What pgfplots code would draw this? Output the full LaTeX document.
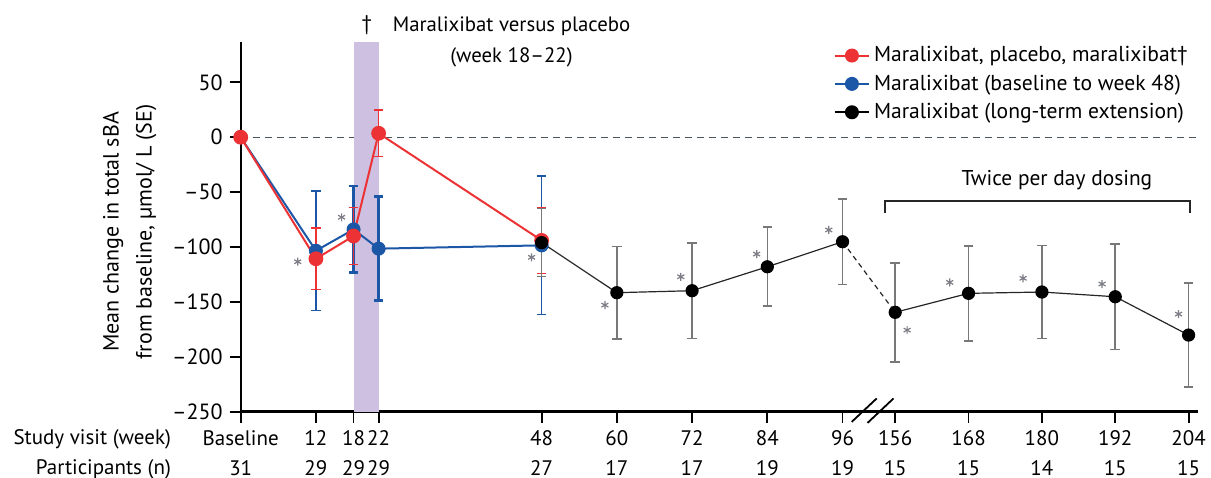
\documentclass[border=0pt]{standalone}
\usepackage{fontspec}
\setmainfont{PT Sans}
\usepackage{pgfplots}
\pgfplotsset{compat=1.18}
\definecolor{redL}{RGB}{236,50,52}
\definecolor{blueL}{RGB}{28,86,166}
\definecolor{band}{RGB}{206,192,224}
\definecolor{zeroline}{RGB}{75,85,95}
\definecolor{astc}{RGB}{125,125,135}
\definecolor{ebgray}{RGB}{120,120,120}
\begin{document}
\begin{tikzpicture}
\useasboundingbox (-120.35pt,-32.65pt) rectangle (485.15pt,205.85pt);
\begin{axis}[
  anchor=south west, at={(0,0)},
  scale only axis, width=478.65pt, height=185pt,
  xmin=0, xmax=152.7, ymin=-250, ymax=87,
  clip=false,
  axis x line*=bottom, axis y line*=left,
  x axis line style={line width=1.4pt,-},
  y axis line style={line width=0.9pt,-},
  tick align=outside, major tick length=5.5pt,
  tick style={line width=0.9pt, black},
  xtick={0,12,18,22,48,60,72,84,96,104.4,116.1,127.8,139.5,151.2},
  xticklabels={{\strut Baseline\\31},{\strut 12\\29},{\strut 18\\29},{\strut 22\\29},{\strut 48\\27},{\strut 60\\17},{\strut 72\\17},{\strut 84\\19},{\strut 96\\19},{\strut 156\\15},{\strut 168\\15},{\strut 180\\14},{\strut 192\\15},{\strut 204\\15}},
  xticklabel style={align=center, font=\fontsize{10.5}{15}\selectfont, yshift=2.6pt},
  ytick={-250,-200,-150,-100,-50,0,50},
  yticklabels={–250,–200,–150,–100,–50,0,50},
  yticklabel style={font=\fontsize{11}{13}\selectfont},
  /pgf/number format/assume math mode=true,
  ylabel={Mean change in total sBA\\from baseline, µmol/ L (SE)},
  ylabel style={at={(axis description cs:-0.116,0.486)}, anchor=center, align=center, font=\fontsize{11}{16.5}\selectfont},
  legend style={draw=none, fill=none, at={(axis description cs:1.0,1.01)}, anchor=north east, font=\fontsize{10.8}{14}\selectfont, row sep=1pt, cells={anchor=west}},
]
\addlegendimage{redL, line width=1pt, mark=*, mark size=3pt}
\addlegendentry{Maralixibat, placebo, maralixibat†}
\addlegendimage{blueL, line width=1pt, mark=*, mark size=3pt}
\addlegendentry{Maralixibat (baseline to week 48)}
\addlegendimage{black, line width=1pt, mark=*, mark size=3pt}
\addlegendentry{Maralixibat (long-term extension)}

% zero line
\addplot[zeroline, line width=0.7pt, dash pattern=on 3.5pt off 2.5pt, forget plot] coordinates {(0,0) (152.7,0)};
% week 18-22 band
\addplot[fill=band, draw=none, forget plot] coordinates {(18,-250) (18,87) (22,87) (22,-250)} -- cycle;

% blue series
\addplot[blueL, line width=1pt, mark=*, mark size=3pt, forget plot,
  error bars/.cd, y dir=both, y explicit,
  error bar style={line width=0.8pt}, error mark options={rotate=90, mark size=2.4pt, line width=0.8pt}]
  coordinates {(0,0) (12,-103.4) +- (0,54.5) (18,-84) (22,-101.5) (48,-98.5) +- (0,63)};
\addplot[draw=none, mark=none, forget plot,
  error bars/.cd, y dir=both, y explicit,
  error bar style={draw=blueL, line width=1.4pt}, error mark options={rotate=90, draw=blueL, mark size=2.4pt, line width=1.4pt}]
  coordinates {(18,-84) +- (0,39.5) (22,-101.5) +- (0,47.5)};

% red series
\addplot[redL, line width=1pt, mark=*, mark size=3.2pt, forget plot,
  error bars/.cd, y dir=both, y explicit,
  error bar style={line width=0.8pt}, error mark options={rotate=90, mark size=2.4pt, line width=0.8pt}]
  coordinates {(0,0) (12,-110.7) +- (0,28) (18,-90) +- (0,26) (22,3.6) +- (0,21) (48,-94) +- (0,30)};

% black series
\addplot[black!85, line width=0.6pt, dash pattern=on 2.5pt off 2pt, forget plot] coordinates {(96,-95.2) (104.4,-159.5)};
\addplot[black!85, line width=0.6pt, mark=*, mark size=3pt, mark options={black, fill=black}, forget plot,
  error bars/.cd, y dir=both, y explicit,
  error bar style={ebgray, line width=0.8pt}, error mark options={rotate=90, ebgray, mark size=2.4pt, line width=0.8pt}]
  coordinates {(48,-96) +- (0,31) (60,-141.6) +- (0,42) (72,-139.8) +- (0,43.4) (84,-118) +- (0,36) (96,-95.2) +- (0,39)};
\addplot[black!85, line width=0.6pt, mark=*, mark size=3pt, mark options={black, fill=black}, forget plot,
  error bars/.cd, y dir=both, y explicit,
  error bar style={ebgray, line width=0.8pt}, error mark options={rotate=90, ebgray, mark size=2.4pt, line width=0.8pt}]
  coordinates {(104.4,-159.5) +- (0,45) (116.1,-142.2) +- (0,43.3) (127.8,-141) +- (0,42.5) (139.5,-145.3) +- (0,48.2) (151.2,-180.2) +- (0,47.5)};

% significance asterisks
\addplot[only marks, mark=asterisk, mark size=2pt, astc, line width=0.6pt, forget plot] coordinates {
  (9.1,-113.4) (16.1,-72.9) (46.4,-109.4) (58.1,-152.9) (70.2,-127.1) (82.3,-106.4)
  (93.8,-84.5) (106.3,-175.7) (113.1,-132.2) (124.8,-128.5) (137.4,-133.7) (149.6,-161.1)};

% axis break
\addplot[black, line width=0.9pt, forget plot] coordinates {(97.46,-259.3) (101.45,-237.9)};
\addplot[black, line width=0.9pt, forget plot] coordinates {(99.99,-260.2) (104.14,-237.9)};

% twice-daily bracket
\addplot[black!85, line width=0.8pt, forget plot] coordinates {(102.8,-69.3) (102.8,-58.1) (151.4,-58.1) (151.4,-69.3)};
\node[font=\fontsize{10.7}{14}\selectfont] at (axis cs:130.2,-38.9) {Twice per day dosing};

% placebo window annotation
\node[font=\fontsize{10.6}{14}\selectfont] at (axis cs:20.1,102.4) {†};
\node[align=center, font=\fontsize{10.4}{15.5}\selectfont] at (axis cs:43.2,86.4) {Maralixibat versus placebo\\(week 18–22)};
\end{axis}
\node[anchor=base east, font=\fontsize{10.5}{15}\selectfont] at (-31.35pt,-16.6pt) {Study visit (week\hbox{)}};
\node[anchor=base east, font=\fontsize{10.5}{15}\selectfont] at (-31.35pt,-31.3pt) {Participants (n)};
\end{tikzpicture}
\end{document}
